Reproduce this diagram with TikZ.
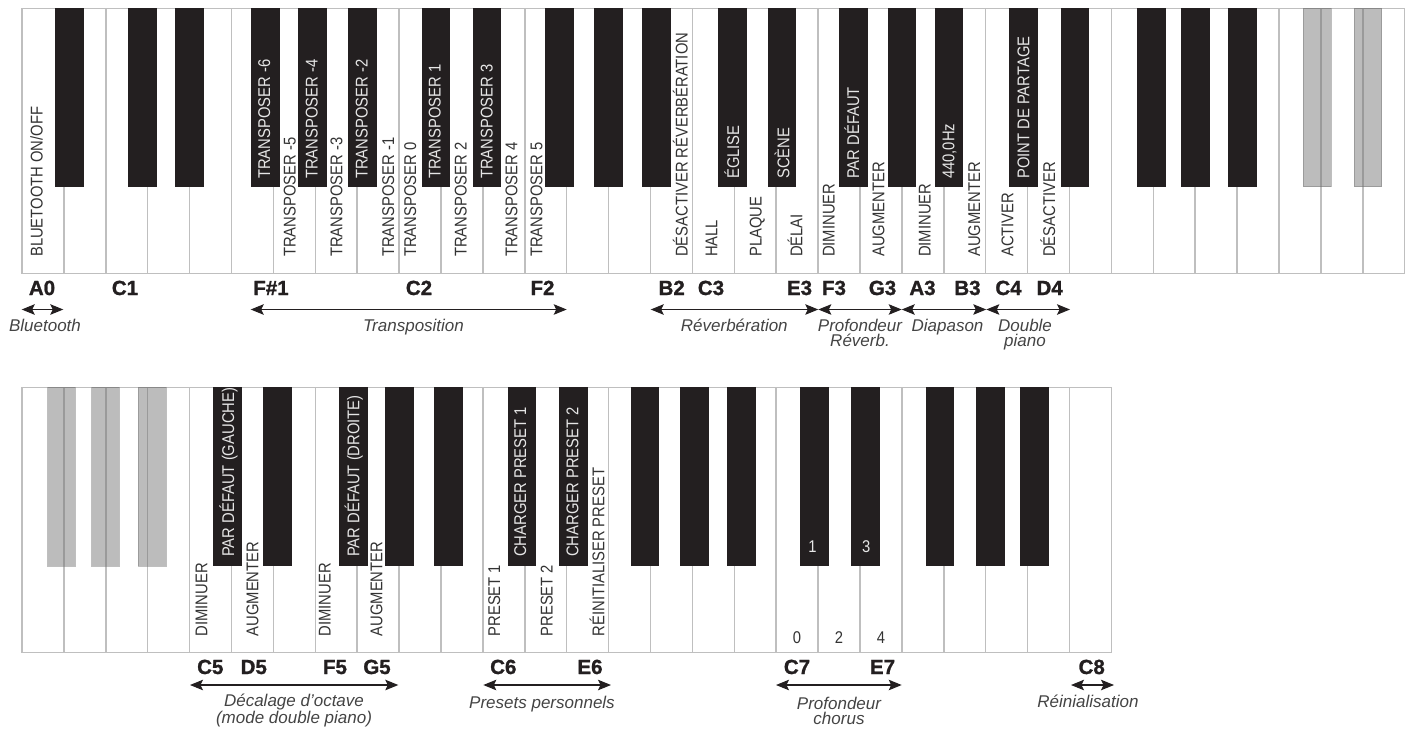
\documentclass[tikz,border=0pt]{standalone}
\usepackage{fontspec}
\usetikzlibrary{arrows.meta}
\newfontfamily\keyfont[FakeStretch=0.87]{Liberation Sans}
\newfontfamily\notefont[BoldFeatures={FakeBold=1.2}]{Liberation Sans}
\newfontfamily\capfont{Liberation Sans}
\definecolor{keyblack}{HTML}{231F20}
\definecolor{keyline}{HTML}{BFBFBF}
\definecolor{labgray}{HTML}{333333}
\definecolor{keywhite}{HTML}{E6E6E6}
\definecolor{capgray}{HTML}{444444}
\definecolor{ghost}{HTML}{737373}
\tikzset{
  whitekey/.style={draw=keyline, fill=white, line width=1.5pt},
  blackkey/.style={fill=keyblack},
  ghostkey/.style={fill=ghost, fill opacity=0.48, draw=ghost, draw opacity=0.45, line width=1pt},
  wlab/.style={rotate=90, anchor=base west, inner sep=0pt, text=labgray,
    font={\keyfont\fontsize{17}{17}\selectfont}},
  blab/.style={wlab, text=keywhite},
  numlab/.style={anchor=base, inner sep=0pt, font={\keyfont\fontsize{17}{17}\selectfont}},
  notelab/.style={anchor=base, inner sep=0pt, text=keyblack,
    font={\notefont\bfseries\fontsize{20.5}{20}\selectfont}},
  dim/.style={{Stealth[length=13pt,width=10.5pt,inset=2.5pt]}-{Stealth[length=13pt,width=10.5pt,inset=2.5pt]},
    line width=1.1pt, draw=keyblack},
  caplab/.style={anchor=base, inner sep=0pt, align=center, text=capgray,
    font={\capfont\itshape\fontsize{17}{14.5}\selectfont}},
  caplabb/.style={caplab, font={\capfont\itshape\fontsize{17}{15.5}\selectfont}}
}
\begin{document}
\begin{tikzpicture}[x=1pt,y=-1pt]
\useasboundingbox (0,0) rectangle (1413,731);
% ---------- top keyboard (A0 .. E5)
\foreach \i in {0,...,32}
  \draw[whitekey] ({22+41.9*\i},8.3) rectangle ({22+41.9*(\i+1)},273.3);
\foreach \x in {55,128.3,175,251,298.3,348.3,421.7,472.7,545,594.3,642,718,767.7,839.3,887.7,934.7,1009,1060.7,1137.3,1181,1228}
  \fill[blackkey] (\x,8.3) rectangle ++(28.5,178.4);
\foreach \x in {1303.3,1354}
  \draw[ghostkey] (\x,8.3) rectangle ++(27.7,178.4);
% ---------- bottom keyboard (F4 .. C8)
\foreach \i in {0,...,25}
  \draw[whitekey] ({22+41.9*\i},387.3) rectangle ({22+41.9*(\i+1)},652.3);
\foreach \x in {213.3,263.3,339,385,434,507.7,559,630.7,680,727.3,800,851,925.7,976,1020}
  \fill[blackkey] (\x,387.3) rectangle ++(28.5,178.7);
\foreach \x in {47.7,91.7,138.3}
  \draw[ghostkey] (\x,387.3) rectangle ++(27.7,178.7);
% ---------- labels on white keys (top)
\node[wlab] (lbt) at (42.7,257) {BLUETOOTH ON/OFF};
\foreach \n/\x/\t in {tm5/295.5/TRANSPOSER -5, tm3/342.3/TRANSPOSER -3, tm1/394/TRANSPOSER -1,
  tz/416/TRANSPOSER 0, tp2/466.7/TRANSPOSER 2, tp4/517.3/TRANSPOSER 4, tp5/542.3/TRANSPOSER 5,
  rvoff/687.7/DÉSACTIVER RÉVERBÉRATION, rvhall/717.3/HALL, rvplaque/761.7/PLAQUE, rvdelai/802.3/DÉLAI,
  pdim/834.5/DIMINUER, paug/884.3/AUGMENTER, ddim/930.7/DIMINUER, daug/980/AUGMENTER,
  dact/1013.3/ACTIVER, ddes/1055/DÉSACTIVER}
  \node[wlab] (\n) at (\x,257) {\t};
% ---------- labels on black keys (top)
\foreach \n/\x/\t in {tm6/270/TRANSPOSER -6, tm4/317.7/TRANSPOSER -4, tm2/367.7/TRANSPOSER -2,
  tp1/440.7/TRANSPOSER 1, tp3/492.7/TRANSPOSER 3, rveg/739/ÉGLISE, rvsc/789.3/SCÈNE,
  pdef/859/PAR DÉFAUT, dhz/954.3/{440,0Hz}, dsplit/1029.3/POINT DE PARTAGE}
  \node[blab] (\n) at (\x,179) {\t};
% ---------- labels on white keys (bottom)
\foreach \n/\x/\t in {odim/207.3/DIMINUER, oaug/258.3/AUGMENTER, odimr/330.7/DIMINUER,
  oaugr/382.3/AUGMENTER, ps1/500/PRESET 1, ps2/552.7/PRESET 2, psr/604.3/RÉINITIALISER PRESET}
  \node[wlab] (\n) at (\x,636.5) {\t};
% ---------- labels on black keys (bottom)
\foreach \n/\x/\t in {odefg/234/PAR DÉFAUT (GAUCHE), odefd/359.3/PAR DÉFAUT (DROITE),
  pl1/526/CHARGER PRESET 1, pl2/578.3/CHARGER PRESET 2}
  \node[blab] (\n) at (\x,557) {\t};
% ---------- chorus depth numbers
\foreach \n/\x/\t in {ch0/797/0, ch2/839/2, ch4/881/4}
  \node[numlab, text=labgray] (\n) at (\x,643.5) {\t};
\foreach \n/\x/\t in {ch1/812.5/1, ch3/866.3/3}
  \node[numlab, text=keywhite] (\n) at (\x,552.7) {\t};
% ---------- note names
\foreach \n/\x/\t in {nA0/42/A0, nC1/125/C1, nFs1/271/F\#1, nC2/419/C2, nF2/542.5/F2,
  nB2/671.7/B2, nC3/711/C3, nE3/799.5/E3, nF3/834/F3, nG3/882.5/G3, nA3/922.5/A3,
  nB3/967.5/B3, nC4/1008.5/C4, nD4/1049.7/D4}
  \node[notelab] (\n) at (\x,295) {\t};
\foreach \n/\x/\t in {nC5/210.3/C5, nD5/253.8/D5, nF5/335/F5, nG5/377/G5, nC6/503.3/C6,
  nE6/590/E6, nC7/797/C7, nE7/882.5/E7, nC8/1091.7/C8}
  \node[notelab] (\n) at (\x,674) {\t};
% ---------- range arrows
\coordinate (btL) at (21.7,309.5);  \coordinate (btR) at (63.3,309.5);
\coordinate (trL) at (250.7,309.5); \coordinate (trR) at (566.7,309.5);
\coordinate (rvL) at (650.7,309.5); \coordinate (rvR) at (818.3,309.5);
\coordinate (pfL) at (818.3,309.5); \coordinate (pfR) at (901.7,309.5);
\coordinate (dpL) at (901.7,309.5); \coordinate (dpR) at (986.3,309.5);
\coordinate (dbL) at (986.3,309.5); \coordinate (dbR) at (1070,309.5);
\coordinate (ocL) at (190,685);     \coordinate (ocR) at (398.3,685);
\coordinate (prL) at (483.3,685);   \coordinate (prR) at (611,685);
\coordinate (chL) at (776,685);     \coordinate (chR) at (901.7,685);
\coordinate (reL) at (1071,685);    \coordinate (reR) at (1114,685);
\foreach \a in {bt,tr,rv,pf,dp,db,oc,pr,ch,re}
  \draw[dim] (\a L) -- (\a R);
% ---------- captions (anchor=base is the baseline of the last line)
\node[caplab] (cbt) at (45,331.5) {Bluetooth};
\node[caplab] (ctr) at (413.5,331.5) {Transposition};
\node[caplab] (crv) at (734.3,331.5) {Réverbération};
\node[caplab] (cpf) at (860,346) {Profondeur\\Réverb.};
\node[caplab] (cdp) at (947.5,331.5) {Diapason};
\node[caplab] (cdb) at (1025,346) {Double\\piano};
\node[caplabb] (coc) at (294,723) {Décalage d’octave\\(mode double piano)};
\node[caplabb] (cpr) at (542,708) {Presets personnels};
\node[caplabb] (cch) at (839,724.5) {Profondeur\\chorus};
\node[caplabb] (cre) at (1088,707) {Réinialisation};
\end{tikzpicture}
\end{document}
